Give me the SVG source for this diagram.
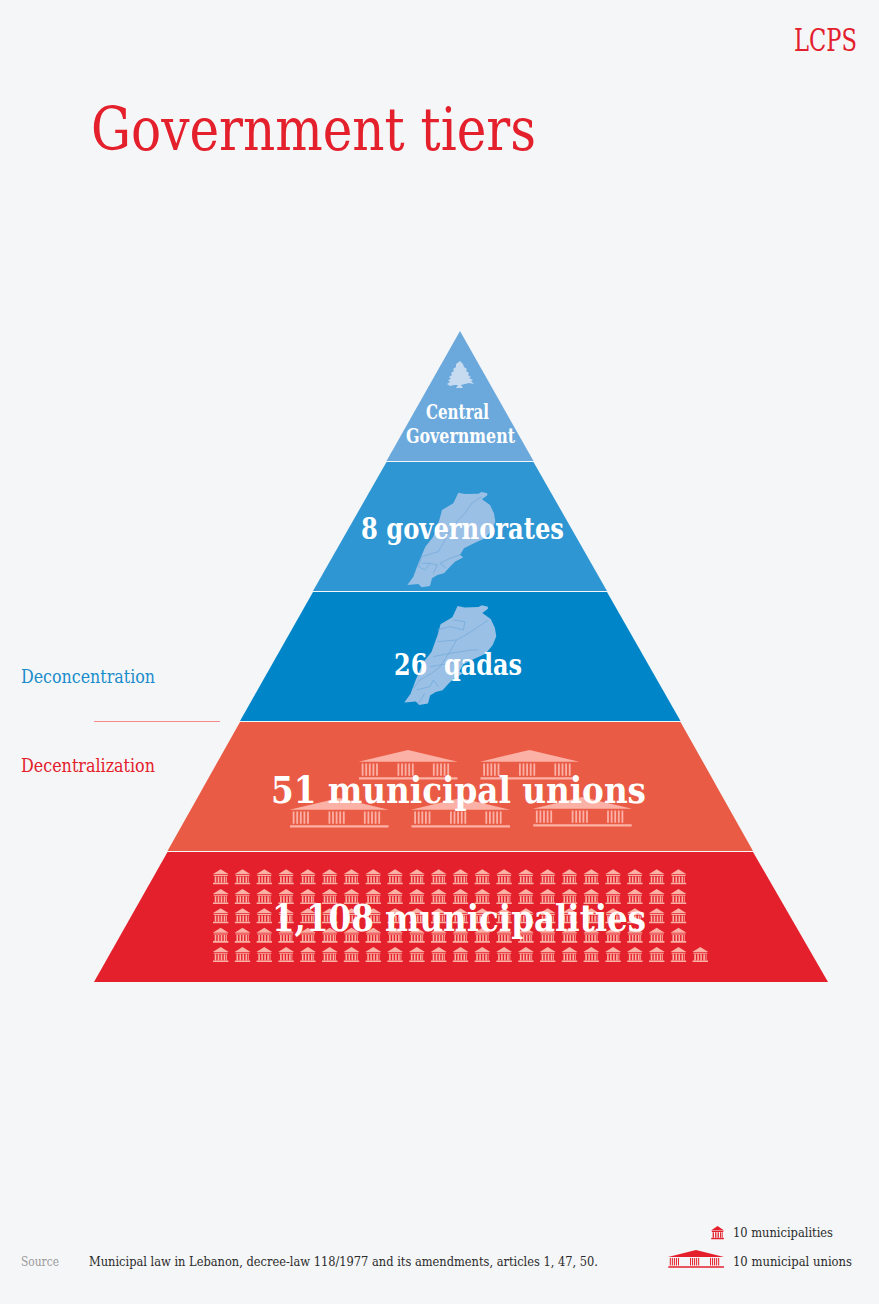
<svg xmlns="http://www.w3.org/2000/svg" xmlns:xlink="http://www.w3.org/1999/xlink" width="879" height="1304" viewBox="0 0 879 1304">
<style>
text{font-family:"DejaVu Serif Condensed","DejaVu Serif","Liberation Serif",serif}
.w{fill:#fff;font-weight:700}
.k{fill:#2b2b2b;font-size:13px}
.r{fill:#e3202b}
.mapfill{fill:#9bc0e5}
.bound{fill:none;stroke:#6ea7d9;stroke-width:2}
</style>
<defs>
<g id="big">
<polygon points="0,11.7 49.5,0 99.3,11.7"/>
<path d="M3.2 13.4h1.8v12.300h-1.800zM6.800 13.4h1.800v12.300h-1.800zM10.400 13.4h1.800v12.300h-1.800zM14 13.4h1.800v12.300h-1.800zM17.600 13.4h1.800v12.300h-1.800zM39 13.4h1.800v12.300h-1.800zM42.600 13.4h1.800v12.300h-1.800zM46.200 13.4h1.800v12.300h-1.800zM49.800 13.4h1.800v12.300h-1.800zM53.400 13.4h1.800v12.300h-1.800zM74.400 13.4h1.800v12.300h-1.800zM78 13.4h1.800v12.300h-1.800zM81.600 13.4h1.800v12.300h-1.800zM85.200 13.4h1.800v12.300h-1.800zM88.800 13.4h1.800v12.300h-1.800zM0.500 27.200h98.500v2.200h-98.500z"/>
</g>
<g id="small">
<polygon points="0,5 8,0 16,5"/>
<path d="M1 5.800h14v1h-14zM2 7.200h1.600v6h-1.600zM5 7.200h1.600v6h-1.600zM8 7.200h1.600v6h-1.600zM11 7.200h1.600v6h-1.600zM13.400 7.200h.8v6h-.8zM0.300 13.400h15.400v1.600h-15.400z"/>
</g>
<g id="row">
<use xlink:href="#small" href="#small" x="0"/><use href="#small" xlink:href="#small" x="21.8"/><use href="#small" xlink:href="#small" x="43.6"/><use href="#small" xlink:href="#small" x="65.4"/><use href="#small" xlink:href="#small" x="87.2"/><use href="#small" xlink:href="#small" x="109"/><use href="#small" xlink:href="#small" x="130.8"/><use href="#small" xlink:href="#small" x="152.6"/><use href="#small" xlink:href="#small" x="174.4"/><use href="#small" xlink:href="#small" x="196.2"/><use href="#small" xlink:href="#small" x="218"/><use href="#small" xlink:href="#small" x="239.8"/><use href="#small" xlink:href="#small" x="261.6"/><use href="#small" xlink:href="#small" x="283.4"/><use href="#small" xlink:href="#small" x="305.2"/><use href="#small" xlink:href="#small" x="327"/><use href="#small" xlink:href="#small" x="348.8"/><use href="#small" xlink:href="#small" x="370.6"/><use href="#small" xlink:href="#small" x="392.4"/><use href="#small" xlink:href="#small" x="414.2"/><use href="#small" xlink:href="#small" x="436"/><use href="#small" xlink:href="#small" x="457.8"/>
</g>
<path id="leb" d="M325 38L345 42L385 41L395 36L412 40L412 46L396 58L420 75L432 100L436 125L426 150L405 175L372 190L342 205L330 225L340 232L315 245L300 260L282 280L262 285L246 295L240 318L215 322L205 312L172 315L190 290L205 250L226 200L250 170L268 120L276 90L310 70Z"/>
</defs>
<rect width="879" height="1304" fill="#f5f6f8"/>
<g id="header">
<text x="794" y="51" font-size="32" textLength="63" lengthAdjust="spacingAndGlyphs" class="r">LCPS</text>
<text x="91" y="150" font-size="60" textLength="445" lengthAdjust="spacingAndGlyphs" class="r">Government tiers</text>
</g>
<g id="tier-central">
<polygon points="460,331 533.500,461 386.500,461" fill="#6ba8dc"/>
<path fill="#c6dbf0" d="M460 361L463 364L464 367L467 369L466 371L469 373L468 375L471 377L469 378L473 380L471 381L474 384L469 383L465 384L461 385L463 388L456 388L458 385L454 385L450 386L447 384L450 382L448 380L451 379L449 377L452 375L451 373L454 371L453 369L456 367L456 364Z"/>
<text x="426" y="419" font-size="20" textLength="63" lengthAdjust="spacingAndGlyphs" class="w">Central</text>
<text x="406" y="443" font-size="20" textLength="109" lengthAdjust="spacingAndGlyphs" class="w">Government</text>
</g>
<g id="tier-governorates">
<polygon points="386.500,462 533.500,462 607,591 313,591" fill="#2e96d2"/>
<g transform="translate(350 480) scale(.3333)">
<use href="#leb" xlink:href="#leb" class="mapfill"/>
<path class="bound" d="M395 50L365 70L345 100L320 125L295 160L280 190L265 215L215 230L205 260L225 270L240 250L262 255L250 280M330 225L300 235L270 250L288 265M240 250L215 250"/>
</g>
<text x="361" y="539" font-size="29" textLength="203" lengthAdjust="spacingAndGlyphs" class="w">8 governorates</text>
</g>
<g id="tier-qadas">
<polygon points="313,592 607,592 680.500,721 240,721" fill="#0086c8"/>
<use href="#leb" xlink:href="#leb" class="mapfill" transform="translate(344.400 592.800) scale(.3483)"/>
<g transform="translate(350 480) scale(.3333)">
<path class="bound" d="M415 420L385 440L355 460L320 480L300 515L270 560L245 580L210 600L190 625M262 450L300 440L340 450L345 425L310 420M262 485L320 480M250 530L300 520L365 510L385 510M240 560L300 550L340 540M200 630L240 620L250 600L265 620M225 640L205 670"/>
</g>
<text x="394" y="675" font-size="29" textLength="128" lengthAdjust="spacingAndGlyphs" class="w" xml:space="preserve">26  qadas</text>
</g>
<g id="tier-unions">
<polygon points="240,722 680.500,722 753,851 167.500,851" fill="#ea5b45"/>
<g fill="#fbb1a5">
<use href="#big" xlink:href="#big" x="358.500" y="750"/>
<use href="#big" xlink:href="#big" x="480" y="750"/>
<use href="#big" xlink:href="#big" x="289.500" y="798"/>
<use href="#big" xlink:href="#big" x="411" y="798"/>
<use href="#big" xlink:href="#big" x="532.700" y="797"/>
</g>
<text x="271" y="803" font-size="37" textLength="375" lengthAdjust="spacingAndGlyphs" class="w">51 municipal unions</text>
</g>
<g id="tier-municipalities">
<polygon points="167.500,852 753,852 828,982 94,982" fill="#e3202b"/>
<g fill="#fbb1a5">
<use href="#row" xlink:href="#row" x="212.700" y="869.300"/>
<use href="#row" xlink:href="#row" x="212.700" y="889"/>
<use href="#row" xlink:href="#row" x="212.700" y="908.300"/>
<use href="#row" xlink:href="#row" x="212.700" y="927.700"/>
<use href="#row" xlink:href="#row" x="212.700" y="947"/>
<use href="#small" xlink:href="#small" x="692.300" y="947"/>
</g>
<text x="272" y="931" font-size="37" textLength="374" lengthAdjust="spacingAndGlyphs" class="w">1,108 municipalities</text>
</g>
<g id="connectors">
<line x1="94" y1="721.500" x2="220" y2="721.500" stroke="#f58a8a" stroke-width="1"/>
</g>
<g id="side-labels">
<text x="21" y="683" font-size="19" textLength="134" lengthAdjust="spacingAndGlyphs" fill="#1a8ccb">Deconcentration</text>
<text x="21" y="772" font-size="19" textLength="134" lengthAdjust="spacingAndGlyphs" class="r">Decentralization</text>
</g>
<g id="footer">
<text x="21" y="1266" font-size="13" textLength="38" lengthAdjust="spacingAndGlyphs" fill="#9a9a9a">Source</text>
<text x="89" y="1266" class="k" textLength="509" lengthAdjust="spacingAndGlyphs">Municipal law in Lebanon, decree-law 118/1977 and its amendments, articles 1, 47, 50.</text>
</g>
<g id="legend">
<use href="#small" xlink:href="#small" class="r" transform="translate(711 1226) scale(.82 .88)"/>
<use href="#big" xlink:href="#big" class="r" transform="translate(668 1250) scale(.565 .6)"/>
<text x="733" y="1237" class="k" textLength="100" lengthAdjust="spacingAndGlyphs">10 municipalities</text>
<text x="733" y="1266" class="k" textLength="119" lengthAdjust="spacingAndGlyphs">10 municipal unions</text>
</g>
</svg>
